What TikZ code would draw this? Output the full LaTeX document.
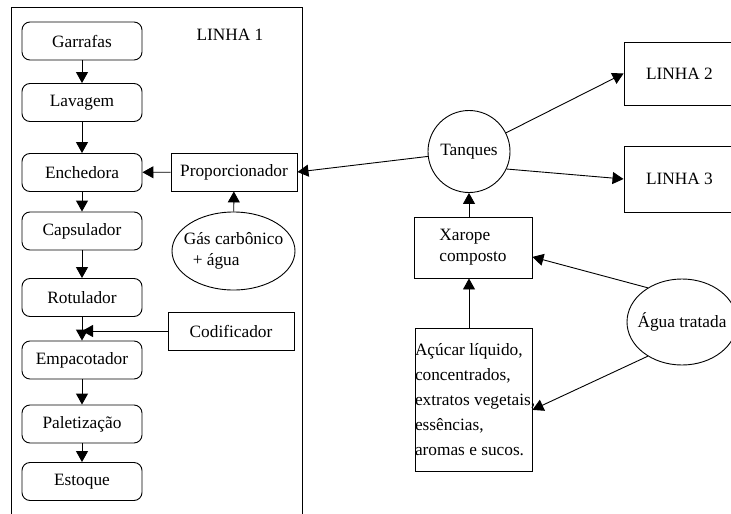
\documentclass[tikz,border=0pt]{standalone}
\usepackage{fontspec}
\setmainfont{Liberation Serif}
\newfontfamily\timesfont{Liberation Serif}
\usetikzlibrary{shapes,arrows.meta}

\begin{document}
\begin{tikzpicture}[x=1pt,y=-1pt,line width=.9pt,
        every node/.style={font=\timesfont\fontsize{17.3}{21}\selectfont},
        stage/.style={draw, rounded corners=8pt, minimum width=120pt, minimum height=38pt},
        unit/.style={draw, minimum width=126pt, minimum height=38pt},
        flow/.style={-{Triangle[length=11pt,width=12pt]}}]
        \useasboundingbox (0,0) rectangle (731,514);

        % linha 1
        \draw (11,7) rectangle (302,520);
        \node (linha1) at (230,35) {LINHA 1};
        \foreach \name/\txt/\y in {garrafas/Garrafas/41, lavagem/Lavagem/102.5,
            enchedora/Enchedora/172.5, capsulador/Capsulador/231, rotulador/Rotulador/297.5,
            empacotador/Empacotador/360, paletizacao/Paletização/424, estoque/Estoque/481.5}
          \node[stage] (\name) at (82,\y) {\txt};
        \foreach \a/\b in {garrafas/lavagem, lavagem/enchedora, enchedora/capsulador,
            capsulador/rotulador, rotulador/empacotador, empacotador/paletizacao, paletizacao/estoque}
          \draw[flow] (\a) -- (\b);

        \node[unit] (prop) at (234,172) {Proporcionador};
        \node[unit] (cod)  at (231,331) {Codificador};
        \node[draw, ellipse, minimum width=123pt, minimum height=78pt,
              label={[align=left]center:{Gás carbônico\\\hspace*{9pt}+ água}}] (gas) at (233.5,251) {};
        \draw[flow] (gas) -- (prop);
        \draw[flow] (prop) -- (enchedora);
        \draw[flow] (cod) -- (rotulador.south |- cod);

        % tanques e linhas 2, 3
        \node[draw, circle, minimum size=82pt] (tanques) at (469,151.5) {Tanques};
        \node[draw, minimum width=111pt, minimum height=63pt] (linha2) at (679.5,73.5) {LINHA 2};
        \node[draw, minimum width=111pt, minimum height=66pt] (linha3) at (679.5,179) {LINHA 3};
        \draw[flow] (tanques) -- (prop.east);
        \draw[flow] (tanques) -- (linha2.west);
        \draw[flow] (tanques.-25) -- (linha3.west);

        % xarope
        \node[draw, align=left, minimum width=118pt, minimum height=61pt] (xarope) at (473,247.5) {Xarope\\composto};
        \node[draw, minimum width=117pt, minimum height=143pt,
              label={[align=left,anchor=west,inner sep=0pt,font=\timesfont\fontsize{17.3}{25}\selectfont]west:{Açúcar líquido,\\concentrados,\\extratos vegetais,\\essências,\\aromas e sucos.}}]
              (acucar) at (473.5,399.5) {};
        \node[draw, ellipse, minimum width=110pt, minimum height=86pt,
              label={center:Água tratada}] (agua) at (682,322) {};
        \draw[flow] (xarope.north -| tanques) -- (tanques);
        \draw[flow] (acucar.north -| tanques) -- (xarope.south -| tanques);
        \draw[flow] (agua.135) -- (xarope.-9);
        \draw[flow] (agua.-135) -- (acucar.-10);
\end{tikzpicture}
\end{document}
